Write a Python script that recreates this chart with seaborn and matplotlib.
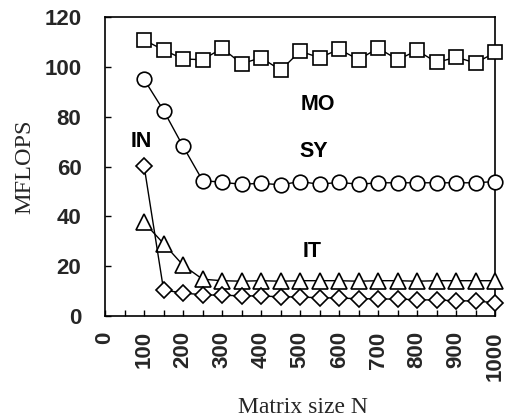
import pandas as pd
import matplotlib.pyplot as plt
import seaborn as sns
from matplotlib.ticker import MultipleLocator

# matrix sizes
tamanhos = [100, 150, 200, 250, 300, 350, 400, 450, 500, 550,
            600, 650, 700, 750, 800, 850, 900, 950, 1000]

mo = [110.8, 106.8, 103.2, 102.9, 107.5, 101.3, 103.7, 98.7, 106.3, 103.7,
      107.1, 102.9, 107.6, 102.9, 106.6, 101.8, 103.9, 101.6, 105.8]
sy = [95.0, 82.5, 68.1, 54.4, 53.7, 52.9, 53.3, 52.7, 54.0, 52.9,
      53.7, 52.9, 53.5, 53.5, 53.5, 53.5, 53.5, 53.5, 54.0]
it = [37.6, 29.1, 20.4, 14.8, 14.2, 14.0, 14.2, 14.0, 14.2, 14.2,
      14.2, 14.0, 14.2, 14.2, 14.0, 14.2, 14.2, 14.2, 14.2]
inn = [60.3, 10.5, 9.2, 8.6, 8.3, 8.2, 8.0, 7.8, 7.6, 7.4,
       7.2, 7.0, 6.9, 6.8, 6.6, 6.4, 6.2, 6.0, 5.4]

series = {"MO": mo, "SY": sy, "IT": it, "IN": inn}
marcadores = {"MO": "s", "SY": "o", "IT": "^", "IN": "D"}
tamanho_marc = {"MO": 10.5, "SY": 10.5, "IT": 11.5, "IN": 8.5}

# label positions (data coords)
rotulos = {"MO": (545, 85), "SY": (535, 66), "IT": (530, 26), "IN": (92, 70)}

linhas = []
for nome, vals in series.items():
    for n, v in zip(tamanhos, vals):
        linhas.append({"N": n, "MFLOPS": v, "serie": nome})
df = pd.DataFrame(linhas)

sns.set_style("white")
fig = plt.figure(figsize=(5.1, 4.17), dpi=100)
ax = fig.add_axes([0.206, 0.242, 0.765, 0.717])

for nome in series:
    sub = df[df["serie"] == nome]
    sns.lineplot(data=sub, x="N", y="MFLOPS", color="black", linewidth=1.0,
                 marker=marcadores[nome], markersize=tamanho_marc[nome],
                 markerfacecolor="white", markeredgecolor="black",
                 markeredgewidth=1.2, ax=ax, clip_on=False, zorder=3)

for nome, (x, y) in rotulos.items():
    ax.text(x, y, nome, fontsize=15.5, fontweight="bold", family="Liberation Sans",
            ha="center", va="center", color="black")

ax.set_xlim(0, 1000)
ax.set_ylim(0, 120)
ax.xaxis.set_major_locator(MultipleLocator(100))
ax.xaxis.set_minor_locator(MultipleLocator(50))
ax.yaxis.set_major_locator(MultipleLocator(20))
ax.tick_params(axis="both", which="both", direction="in", length=4, width=1,
               color="black", bottom=True, left=True)
ax.tick_params(axis="x", which="major", pad=11)
ax.tick_params(axis="y", which="major", pad=17)

for lab in ax.get_xticklabels():
    lab.set_rotation(90)
for lab in ax.get_xticklabels() + ax.get_yticklabels():
    lab.set_fontsize(16)
    lab.set_fontweight("bold")
    lab.set_family("Liberation Sans")

for s in ax.spines.values():
    s.set_color("black")
    s.set_linewidth(1.2)

ax.set_xlabel("Matrix size N", fontsize=17, family="Liberation Serif")
ax.set_ylabel("MFLOPS", fontsize=17.5, family="Liberation Serif")
ax.xaxis.set_label_coords(0.508, -0.27)
ax.yaxis.set_label_coords(-0.178, 0.498)

fig.savefig("out.png", dpi=100)
